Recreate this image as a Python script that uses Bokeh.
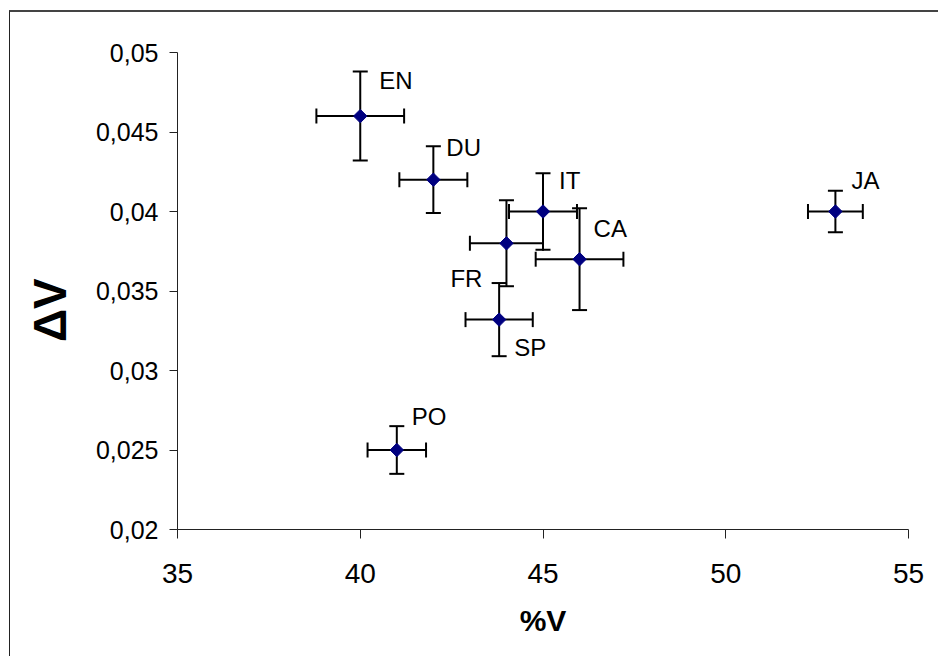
import numpy as np
from bokeh.plotting import figure
from bokeh.models import (ColumnDataSource, Whisker, TeeHead, FixedTicker,
                          CustomJSTickFormatter, Range1d)
from bokeh.core.properties import value
from bokeh.embed import file_html
from bokeh.resources import INLINE

# ---- data ----
langs = ["EN", "DU", "IT", "FR", "CA", "SP", "PO", "JA"]
pct_v = [40.0, 42.0, 45.0, 44.0, 46.0, 43.8, 41.0, 53.0]
delta_v = [0.0460, 0.0420, 0.0400, 0.0380, 0.0370, 0.0332, 0.0250, 0.0400]
x_err = [1.2, 0.93, 0.93, 1.0, 1.2, 0.92, 0.8, 0.75]
y_err = [0.0028, 0.0021, 0.0024, 0.0027, 0.0032, 0.0023, 0.0015, 0.0013]
x_ticks = [35, 40, 45, 50, 55]
y_ticks = [0.02, 0.025, 0.03, 0.035, 0.04, 0.045, 0.05]

# label placement (screen px offsets from each point)
lab_dx = [19, 13, 16, -24, 14, 15, 15, 16]
lab_dy = [-36, -32, -31, 35, -31, 28, -34, -31]
lab_align = ["left", "left", "left", "right", "left", "left", "left", "left"]

FONT = "Liberation Sans"

src = ColumnDataSource(dict(
    x=pct_v, y=delta_v, lang=langs,
    xl=[a - b for a, b in zip(pct_v, x_err)], xu=[a + b for a, b in zip(pct_v, x_err)],
    yl=[a - b for a, b in zip(delta_v, y_err)], yu=[a + b for a, b in zip(delta_v, y_err)],
    dx=lab_dx, dy=lab_dy, align=lab_align,
))

p = figure(width=929, height=646, output_backend="svg", toolbar_location=None,
           x_range=Range1d(35, 55), y_range=Range1d(0.02, 0.05),
           min_border_left=167, min_border_right=31, min_border_top=40,
           min_border_bottom=129)
p.margin = (10, 0, 0, 9)
p.styles = {"border-top": "2px solid #444444", "border-left": "1px solid #222222"}

p.grid.visible = False
p.outline_line_color = None
p.background_fill_color = "white"
p.border_fill_color = "white"

# axes
p.xaxis.ticker = FixedTicker(ticks=x_ticks)
p.yaxis.ticker = FixedTicker(ticks=y_ticks)
p.yaxis.formatter = CustomJSTickFormatter(
    code="return tick.toFixed(3).replace(/0+$/, '').replace('.', ',');")
for ax in (p.xaxis, p.yaxis):
    ax.axis_line_color = "#222222"
    ax.axis_line_width = 1
    ax.major_tick_line_color = "#222222"
    ax.major_tick_in = 0
    ax.minor_tick_line_color = None
    ax.major_label_text_font = FONT
    ax.major_label_text_color = "black"
    ax.axis_label_text_font = FONT
    ax.axis_label_text_font_style = "bold"
    ax.axis_label_text_color = "black"

p.xaxis.major_tick_out = 9
p.xaxis.major_label_text_font_size = "28px"
p.xaxis.major_label_standoff = 25
p.xaxis.axis_label = "%V"
p.xaxis.axis_label_text_font_size = "30px"
p.xaxis.axis_label_standoff = 18

p.yaxis.major_tick_out = 8
p.yaxis.major_label_text_font_size = "25px"
p.yaxis.major_label_standoff = 11
p.yaxis.axis_label = "ΔV\u00a0\u00a0\u00a0"
p.yaxis.axis_label_text_font_size = "46px"
p.yaxis.axis_label_standoff = 17

# error bars
for dim, lo, hi in (("height", "yl", "yu"), ("width", "xl", "xu")):
    base = "x" if dim == "height" else "y"
    w = Whisker(source=src, base=base, lower=lo, upper=hi, dimension=dim,
                line_color="black", line_width=2,
                lower_head=TeeHead(size=15, line_color="black", line_width=2),
                upper_head=TeeHead(size=15, line_color="black", line_width=2))
    p.add_layout(w)

# markers
p.scatter("x", "y", source=src, marker="square", angle=np.pi / 4, size=9.5,
          fill_color="#000080", line_color="#000080")

# labels
p.text("x", "y", text="lang", source=src, x_offset="dx", y_offset="dy",
       text_align="align", text_baseline="middle",
       text_font=value(FONT), text_font_size="24px", text_color="black")

open("out.html", "w").write(file_html(p, INLINE))
